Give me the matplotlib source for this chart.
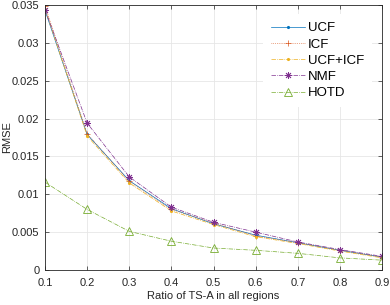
"""Recreate RMSE vs TS-A ratio comparison chart."""

import matplotlib
matplotlib.use("Agg")
import matplotlib.pyplot as plt

plt.rcParams["font.family"] = ["Liberation Sans", "DejaVu Sans"]

ratios = [0.1, 0.2, 0.3, 0.4, 0.5, 0.6, 0.7, 0.8, 0.9]
ucf = [0.0343, 0.0179, 0.0118, 0.0081, 0.0061, 0.0046, 0.0036, 0.0026, 0.0017]
icf = [0.0349, 0.0180, 0.0117, 0.0080, 0.0062, 0.0045, 0.0036, 0.0026, 0.0017]
ucf_icf = [0.0345, 0.0177, 0.0115, 0.0078, 0.0060, 0.0044, 0.0035, 0.0025, 0.0016]
nmf = [0.0344, 0.0194, 0.0123, 0.0083, 0.0063, 0.0050, 0.0037, 0.0027, 0.0018]
hotd = [0.0116, 0.0080, 0.0051, 0.0038, 0.0029, 0.0026, 0.0022, 0.0016, 0.0013]

fig = plt.figure(figsize=(3.9, 3.05), dpi=100)
ax = fig.add_axes([0.1154, 0.1148, 0.8641, 0.8688])

ax.plot(ratios, ucf, color="#0072BD", ls="-", lw=0.5, marker=".", ms=2.5, label="UCF")
ax.plot(ratios, icf, color="#D95319", ls=":", lw=0.5, marker="+", ms=5, mew=0.5, label="ICF")
ax.plot(ratios, ucf_icf, color="#EDB120", ls="-.", lw=0.5, marker=".", ms=2.5, label="UCF+ICF")
ax.plot(ratios, nmf, color="#7E2F8E", ls="-.", lw=0.5, marker=(8, 2, 0), ms=5, mew=0.6,
        label="NMF")
ax.plot(ratios, hotd, color="#77AC30", ls="-.", lw=0.5, marker="^", ms=5.5, mew=0.6,
        mfc="none", label="HOTD")

ax.set_xlim(0.1, 0.9)
ax.set_ylim(0, 0.035)
ax.set_xticks(ratios)
ax.set_xticklabels(["0.1", "0.2", "0.3", "0.4", "0.5", "0.6", "0.7", "0.8", "0.9"])
ax.set_yticks([0, 0.005, 0.01, 0.015, 0.02, 0.025, 0.03, 0.035])
ax.set_yticklabels(["0", "0.005", "0.01", "0.015", "0.02", "0.025", "0.03", "0.035"])
ax.grid(True, color="#e6e6e6", lw=0.6)
ax.set_axisbelow(True)
ax.tick_params(direction="in", length=3, width=0.5, labelsize=8, colors="#262626",
               top=True, right=True)
ax.tick_params(axis="x", pad=6)
ax.tick_params(axis="y", pad=4)
for s in ax.spines.values():
    s.set_color("#262626")
    s.set_linewidth(0.6)

ax.set_xlabel("Ratio of TS-A in all regions", fontsize=8, color="#262626", labelpad=2)
ax.set_ylabel("RMSE", fontsize=8, color="#262626", va="center")
ax.yaxis.set_label_coords(-0.112, 0.5)

leg = ax.legend(loc="upper right", bbox_to_anchor=(0.99, 0.99), frameon=True,
                fontsize=9.5, handlelength=2.6, handletextpad=0.2, labelspacing=0.3,
                borderpad=0.6, fancybox=False)
leg.get_frame().set_edgecolor("none")
leg.get_frame().set_facecolor("white")
leg.get_frame().set_alpha(1)

fig.savefig("out.png", dpi=100)
